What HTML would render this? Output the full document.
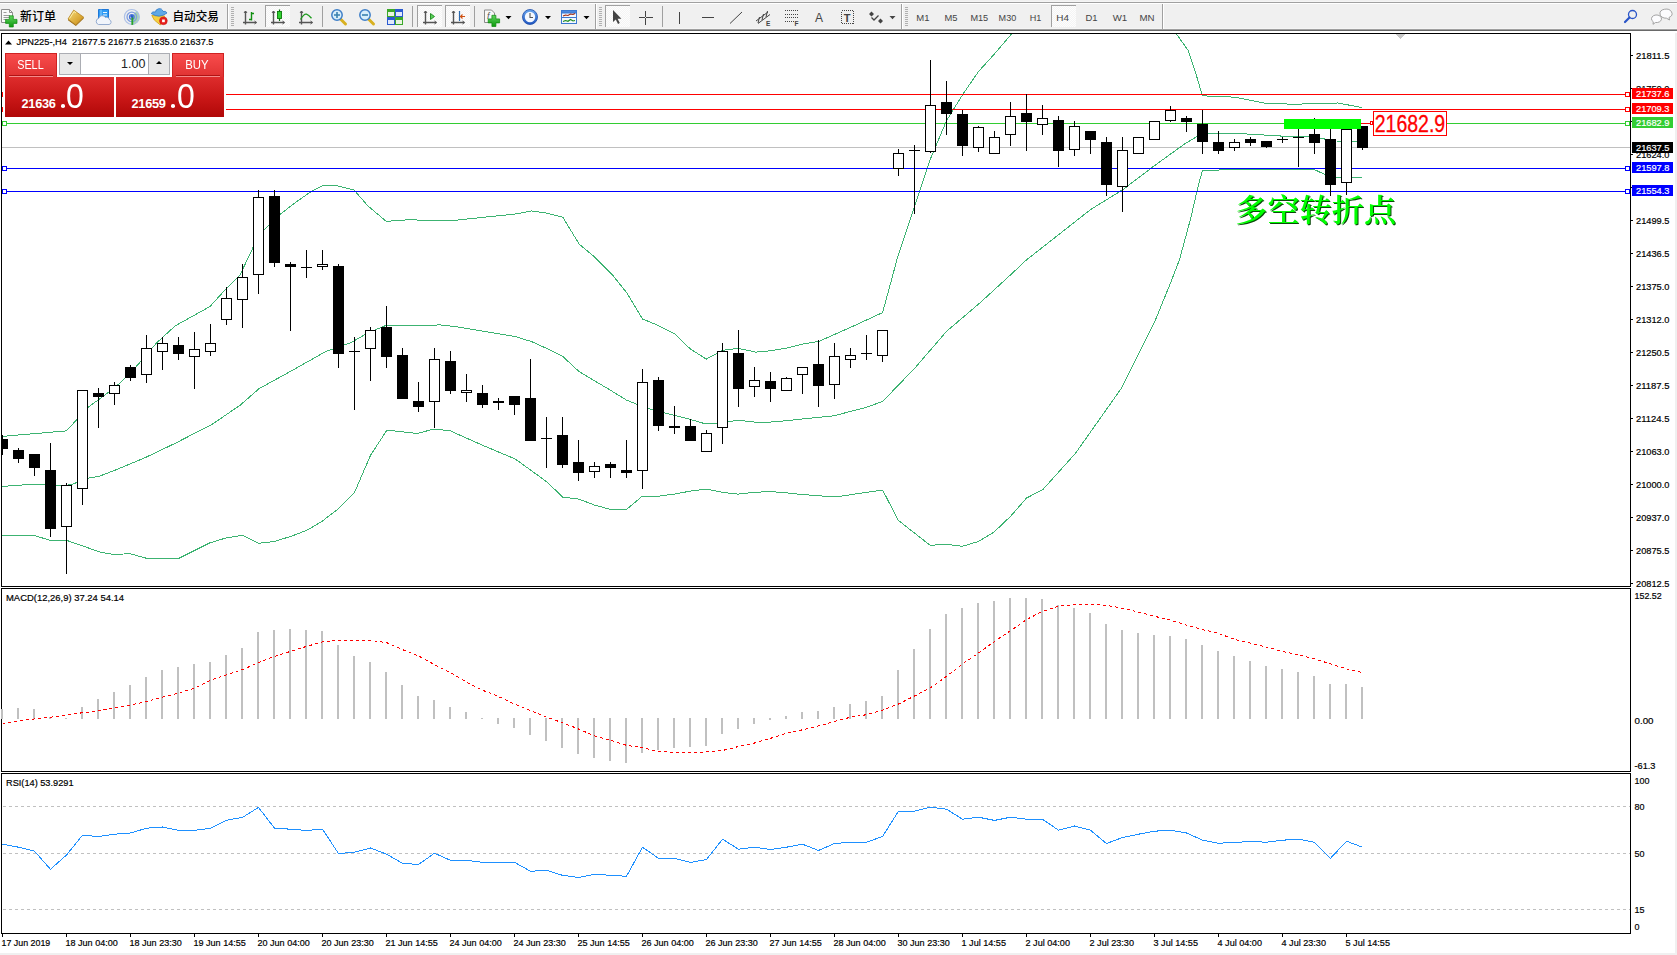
<!DOCTYPE html>
<html lang="zh"><head><meta charset="utf-8"><title>JPN225-,H4</title>
<style>
html,body{margin:0;padding:0;background:#f0f0f0;}
body{width:1677px;height:955px;overflow:hidden;position:relative;font-family:"Liberation Sans","Noto Sans CJK SC",sans-serif;}
#panel{position:absolute;left:0;top:0;width:230px;height:120px;color:#fff;}
#panel .bg{position:absolute;left:3px;top:52px;width:223px;height:66px;background:#fff}
#panel .pt{position:absolute;top:53px;height:24px;width:52px;background:linear-gradient(#f84c4c,#e03232);box-sizing:border-box;border:1px solid #cf2222;border-bottom:none}
#panel .sellt{left:5px}#panel .buyt{left:172px}
#panel .pb{position:absolute;top:77px;height:40px;background:linear-gradient(#de2c2c,#c81616 55%,#b00808);}
#panel .sell{left:5px;width:109px}#panel .buy{left:116px;width:108px}
#panel .lbl{position:absolute;top:58px;text-align:center;font-size:12.6px;line-height:15px;}
#panel .lbl span{display:inline-block}
#panel .ul{position:absolute;top:75px;width:44px;height:1px;background:#b01414;border-bottom:1px solid #f58a8a}
#panel .spin{position:absolute;left:59px;top:53px;width:111px;height:22px;background:#fff;border:1px solid #abadb3;box-sizing:border-box;}
#panel .sb{position:absolute;top:0;width:20px;height:20px;background:#e9e9e9;}
#panel .sb.l{left:0;border-right:1px solid #abadb3}#panel .sb.r{right:0;border-left:1px solid #abadb3}
#panel .sb i{position:absolute;left:7px;width:0;height:0;border-left:3px solid transparent;border-right:3px solid transparent}
#panel .sb i.dn{top:8px;border-top:3px solid #000}#panel .sb i.up{top:7px;border-bottom:3px solid #000}
#panel .sv{position:absolute;left:21px;right:23.6px;top:3px;text-align:right;color:#222;font-size:12.5px;line-height:15px}
#panel .pr{position:absolute;top:77px;width:109px;height:40px;}
#panel .pr .s{position:absolute;left:16.5px;top:19px;font-size:12.8px;font-weight:bold;line-height:16px;letter-spacing:-0.3px}
#panel .pr .d{position:absolute;left:55.5px;top:27px;width:4px;height:4px;border-radius:1.8px;background:#fff}
#panel .pr .b{position:absolute;left:60.5px;top:-1px;font-size:35.5px;line-height:40px;display:inline-block;transform:scaleX(0.9);transform-origin:0 0}
</style></head><body>
<svg id="chart" width="1677" height="955" viewBox="0 0 1677 955" style="position:absolute;left:0;top:0" shape-rendering="crispEdges" font-family="'Liberation Sans', sans-serif" font-size="9.9px" stroke-width="0.2">
<defs><clipPath id="cm"><rect x="2" y="34" width="1628" height="552"/></clipPath></defs>
<rect x="0" y="31" width="1675" height="922" fill="#fff"/>
<rect x="1" y="33" width="1630" height="1" fill="#000"/>
<rect x="1" y="586" width="1630" height="1" fill="#000"/>
<rect x="1" y="33" width="1" height="554" fill="#000"/>
<rect x="1630" y="33" width="1" height="554" fill="#000"/>
<rect x="1" y="588" width="1630" height="1" fill="#000"/>
<rect x="1" y="771" width="1630" height="1" fill="#000"/>
<rect x="1" y="588" width="1" height="184" fill="#000"/>
<rect x="1630" y="588" width="1" height="184" fill="#000"/>
<rect x="1" y="773" width="1630" height="1" fill="#000"/>
<rect x="1" y="933" width="1630" height="1" fill="#000"/>
<rect x="1" y="773" width="1" height="161" fill="#000"/>
<rect x="1630" y="773" width="1" height="161" fill="#000"/>
<g clip-path="url(#cm)">
<rect x="2" y="147" width="1628" height="1" fill="#c0c0c0"/>
<polyline points="2.0,436.4 66.4,430.9 77.6,418.8 87.7,407.6 110.0,391.3 120.0,383.0 135.0,368.0 156.5,343.0 175.0,326.0 210.0,306.5 225.0,290.0 240.0,275.0 253.0,247.6 264.0,230.0 280.5,214.0 295.5,202.5 310.5,192.0 323.0,185.5 338.0,186.0 354.0,190.0 368.0,206.0 386.3,221.4 410.0,219.6 427.6,220.6 452.6,220.6 485.2,217.1 516.5,213.9 531.5,210.9 546.5,213.1 562.8,217.1 579.0,243.9 595.4,257.7 611.7,274.0 626.7,292.7 642.5,319.0 658.0,325.3 674.3,333.6 690.5,349.1 706.3,359.1 722.6,350.3 738.1,348.3 755.7,352.1 770.7,350.8 785.7,348.3 802.0,344.2 818.8,341.4 850.0,327.6 882.6,312.6 898.0,255.8 914.0,208.3 930.2,159.5 946.5,120.7 962.8,94.4 978.3,71.8 994.1,54.3 1012.4,33.0 1026.0,18.0" fill="none" stroke="#3cb371" stroke-width="1" />
<polyline points="1170.0,15.0 1175.7,33.0 1188.2,50.5 1195.7,73.1 1202.4,95.8 1235.5,97.2 1266.0,103.5 1294.6,104.2 1323.3,103.5 1337.6,103.0 1362.0,107.5" fill="none" stroke="#3cb371" stroke-width="1" />
<polyline points="2.0,486.5 32.6,484.2 61.4,486.0 72.6,484.2 87.7,478.2 99.0,476.4 115.0,470.2 145.0,457.7 175.0,443.4 213.0,423.8 240.4,405.0 259.0,388.7 293.0,370.0 325.5,351.6 350.6,342.8 368.0,332.8 386.3,325.3 425.0,326.0 438.9,324.8 455.0,326.5 485.2,331.6 515.2,336.5 531.5,341.6 546.5,348.3 562.8,356.5 579.0,371.5 610.4,390.2 626.6,400.2 642.4,406.5 658.0,411.5 674.2,415.2 690.5,419.5 706.0,424.0 722.0,422.7 738.0,420.2 754.0,422.0 770.6,422.0 787.0,420.7 802.0,419.0 833.8,415.8 866.4,407.3 882.6,401.5 915.2,367.7 946.5,331.4 980.3,302.6 1010.4,275.0 1026.6,259.8 1090.5,209.6 1123.1,189.5 1154.4,165.7 1185.7,143.2 1196.1,137.0 1208.7,133.4 1233.7,133.1 1251.6,134.3 1282.1,136.1 1309.0,137.0 1323.3,138.8 1335.8,141.0 1362.0,141.5" fill="none" stroke="#3cb371" stroke-width="1" />
<polyline points="2.0,535.3 33.8,535.3 50.0,540.3 66.4,540.3 100.0,552.0 114.0,554.6 130.0,553.6 146.5,558.3 179.0,558.3 210.0,542.8 226.6,537.8 242.4,535.3 259.0,543.3 274.0,541.5 290.5,536.5 306.8,530.3 321.8,521.5 338.0,509.0 354.4,492.7 370.6,455.1 387.0,430.1 400.0,431.5 417.5,433.5 433.8,429.0 450.0,430.7 482.6,445.3 515.2,459.0 546.5,481.6 562.8,497.1 579.0,499.1 594.0,504.9 610.4,509.4 626.6,509.4 642.4,496.1 659.2,496.1 674.2,494.1 690.5,491.1 706.0,489.1 722.0,492.3 738.0,494.1 754.0,492.3 770.6,491.6 787.0,492.9 800.0,494.3 835.0,497.0 882.6,490.0 898.2,520.2 914.0,532.7 930.2,545.3 946.5,544.3 962.3,546.3 978.3,541.5 994.1,532.0 1010.4,516.5 1026.6,498.0 1042.9,489.5 1075.5,453.3 1121.8,387.7 1154.4,322.6 1170.7,282.5 1179.4,260.0 1190.7,218.3 1198.2,186.0 1202.4,170.5 1226.6,169.8 1282.1,169.5 1314.3,169.5 1325.1,174.6 1335.8,177.7 1362.0,177.3" fill="none" stroke="#3cb371" stroke-width="1" />
<rect x="2" y="94" width="1628" height="1" fill="#ff0000"/>
<rect x="2" y="109" width="1628" height="1" fill="#ff0000"/>
<rect x="2" y="123" width="1628" height="1" fill="#32cd32"/>
<rect x="2" y="168" width="1628" height="1" fill="#0000ff"/>
<rect x="2" y="191" width="1628" height="1" fill="#0000ff"/>
<rect x="2" y="435" width="1" height="20" fill="#000"/>
<rect x="-3" y="439" width="11" height="10" fill="#000"/>
<rect x="18" y="448" width="1" height="15" fill="#000"/>
<rect x="13" y="450" width="11" height="9" fill="#000"/>
<rect x="34" y="454" width="1" height="22" fill="#000"/>
<rect x="29" y="454" width="11" height="14" fill="#000"/>
<rect x="50" y="443" width="1" height="94" fill="#000"/>
<rect x="45" y="470" width="11" height="59" fill="#000"/>
<rect x="66" y="483" width="1" height="91" fill="#000"/>
<rect x="61" y="485" width="11" height="42" fill="#000"/>
<rect x="62" y="486" width="9" height="40" fill="#fff"/>
<rect x="82" y="390" width="1" height="115" fill="#000"/>
<rect x="77" y="390" width="11" height="99" fill="#000"/>
<rect x="78" y="391" width="9" height="97" fill="#fff"/>
<rect x="98" y="388" width="1" height="40" fill="#000"/>
<rect x="93" y="393" width="11" height="4" fill="#000"/>
<rect x="114" y="382" width="1" height="23" fill="#000"/>
<rect x="109" y="385" width="11" height="9" fill="#000"/>
<rect x="110" y="386" width="9" height="7" fill="#fff"/>
<rect x="130" y="365" width="1" height="16" fill="#000"/>
<rect x="125" y="367" width="11" height="11" fill="#000"/>
<rect x="146" y="335" width="1" height="48" fill="#000"/>
<rect x="141" y="348" width="11" height="27" fill="#000"/>
<rect x="142" y="349" width="9" height="25" fill="#fff"/>
<rect x="162" y="337" width="1" height="33" fill="#000"/>
<rect x="157" y="343" width="11" height="9" fill="#000"/>
<rect x="158" y="344" width="9" height="7" fill="#fff"/>
<rect x="178" y="337" width="1" height="23" fill="#000"/>
<rect x="173" y="345" width="11" height="9" fill="#000"/>
<rect x="194" y="332" width="1" height="57" fill="#000"/>
<rect x="189" y="349" width="11" height="8" fill="#000"/>
<rect x="190" y="350" width="9" height="6" fill="#fff"/>
<rect x="210" y="324" width="1" height="32" fill="#000"/>
<rect x="205" y="343" width="11" height="9" fill="#000"/>
<rect x="206" y="344" width="9" height="7" fill="#fff"/>
<rect x="226" y="287" width="1" height="38" fill="#000"/>
<rect x="221" y="298" width="11" height="22" fill="#000"/>
<rect x="222" y="299" width="9" height="20" fill="#fff"/>
<rect x="242" y="264" width="1" height="64" fill="#000"/>
<rect x="237" y="277" width="11" height="23" fill="#000"/>
<rect x="238" y="278" width="9" height="21" fill="#fff"/>
<rect x="258" y="190" width="1" height="104" fill="#000"/>
<rect x="253" y="197" width="11" height="78" fill="#000"/>
<rect x="254" y="198" width="9" height="76" fill="#fff"/>
<rect x="274" y="190" width="1" height="77" fill="#000"/>
<rect x="269" y="196" width="11" height="67" fill="#000"/>
<rect x="290" y="262" width="1" height="69" fill="#000"/>
<rect x="285" y="264" width="11" height="3" fill="#000"/>
<rect x="306" y="250" width="1" height="28" fill="#000"/>
<rect x="301" y="267" width="11" height="1" fill="#000"/>
<rect x="322" y="250" width="1" height="20" fill="#000"/>
<rect x="317" y="264" width="11" height="3" fill="#000"/>
<rect x="318" y="265" width="9" height="1" fill="#fff"/>
<rect x="338" y="264" width="1" height="104" fill="#000"/>
<rect x="333" y="266" width="11" height="88" fill="#000"/>
<rect x="354" y="337" width="1" height="73" fill="#000"/>
<rect x="349" y="351" width="11" height="1" fill="#000"/>
<rect x="370" y="327" width="1" height="54" fill="#000"/>
<rect x="365" y="330" width="11" height="19" fill="#000"/>
<rect x="366" y="331" width="9" height="17" fill="#fff"/>
<rect x="386" y="306" width="1" height="62" fill="#000"/>
<rect x="381" y="327" width="11" height="30" fill="#000"/>
<rect x="402" y="348" width="1" height="51" fill="#000"/>
<rect x="397" y="355" width="11" height="44" fill="#000"/>
<rect x="418" y="382" width="1" height="30" fill="#000"/>
<rect x="413" y="401" width="11" height="6" fill="#000"/>
<rect x="434" y="348" width="1" height="80" fill="#000"/>
<rect x="429" y="359" width="11" height="43" fill="#000"/>
<rect x="430" y="360" width="9" height="41" fill="#fff"/>
<rect x="450" y="351" width="1" height="43" fill="#000"/>
<rect x="445" y="361" width="11" height="30" fill="#000"/>
<rect x="466" y="374" width="1" height="28" fill="#000"/>
<rect x="461" y="390" width="11" height="3" fill="#000"/>
<rect x="462" y="391" width="9" height="1" fill="#fff"/>
<rect x="482" y="385" width="1" height="23" fill="#000"/>
<rect x="477" y="393" width="11" height="12" fill="#000"/>
<rect x="498" y="398" width="1" height="12" fill="#000"/>
<rect x="493" y="401" width="11" height="2" fill="#000"/>
<rect x="514" y="396" width="1" height="19" fill="#000"/>
<rect x="509" y="396" width="11" height="9" fill="#000"/>
<rect x="530" y="359" width="1" height="82" fill="#000"/>
<rect x="525" y="398" width="11" height="43" fill="#000"/>
<rect x="546" y="417" width="1" height="51" fill="#000"/>
<rect x="541" y="438" width="11" height="1" fill="#000"/>
<rect x="562" y="417" width="1" height="51" fill="#000"/>
<rect x="557" y="435" width="11" height="30" fill="#000"/>
<rect x="578" y="440" width="1" height="41" fill="#000"/>
<rect x="573" y="462" width="11" height="11" fill="#000"/>
<rect x="594" y="462" width="1" height="16" fill="#000"/>
<rect x="589" y="466" width="11" height="6" fill="#000"/>
<rect x="590" y="467" width="9" height="4" fill="#fff"/>
<rect x="610" y="462" width="1" height="16" fill="#000"/>
<rect x="605" y="464" width="11" height="4" fill="#000"/>
<rect x="626" y="440" width="1" height="38" fill="#000"/>
<rect x="621" y="470" width="11" height="3" fill="#000"/>
<rect x="642" y="369" width="1" height="120" fill="#000"/>
<rect x="637" y="382" width="11" height="89" fill="#000"/>
<rect x="638" y="383" width="9" height="87" fill="#fff"/>
<rect x="658" y="377" width="1" height="54" fill="#000"/>
<rect x="653" y="380" width="11" height="46" fill="#000"/>
<rect x="674" y="406" width="1" height="28" fill="#000"/>
<rect x="669" y="426" width="11" height="2" fill="#000"/>
<rect x="690" y="419" width="1" height="22" fill="#000"/>
<rect x="685" y="426" width="11" height="15" fill="#000"/>
<rect x="706" y="430" width="1" height="22" fill="#000"/>
<rect x="701" y="433" width="11" height="19" fill="#000"/>
<rect x="702" y="434" width="9" height="17" fill="#fff"/>
<rect x="722" y="343" width="1" height="101" fill="#000"/>
<rect x="717" y="351" width="11" height="77" fill="#000"/>
<rect x="718" y="352" width="9" height="75" fill="#fff"/>
<rect x="738" y="330" width="1" height="77" fill="#000"/>
<rect x="733" y="353" width="11" height="36" fill="#000"/>
<rect x="754" y="367" width="1" height="30" fill="#000"/>
<rect x="749" y="380" width="11" height="7" fill="#000"/>
<rect x="750" y="381" width="9" height="5" fill="#fff"/>
<rect x="770" y="372" width="1" height="30" fill="#000"/>
<rect x="765" y="381" width="11" height="8" fill="#000"/>
<rect x="786" y="377" width="1" height="14" fill="#000"/>
<rect x="781" y="378" width="11" height="13" fill="#000"/>
<rect x="782" y="379" width="9" height="11" fill="#fff"/>
<rect x="802" y="367" width="1" height="27" fill="#000"/>
<rect x="797" y="367" width="11" height="8" fill="#000"/>
<rect x="798" y="368" width="9" height="6" fill="#fff"/>
<rect x="818" y="340" width="1" height="67" fill="#000"/>
<rect x="813" y="364" width="11" height="22" fill="#000"/>
<rect x="834" y="343" width="1" height="56" fill="#000"/>
<rect x="829" y="356" width="11" height="29" fill="#000"/>
<rect x="830" y="357" width="9" height="27" fill="#fff"/>
<rect x="850" y="348" width="1" height="20" fill="#000"/>
<rect x="845" y="355" width="11" height="5" fill="#000"/>
<rect x="846" y="356" width="9" height="3" fill="#fff"/>
<rect x="866" y="335" width="1" height="25" fill="#000"/>
<rect x="861" y="353" width="11" height="1" fill="#000"/>
<rect x="882" y="330" width="1" height="32" fill="#000"/>
<rect x="877" y="330" width="11" height="26" fill="#000"/>
<rect x="878" y="331" width="9" height="24" fill="#fff"/>
<rect x="898" y="149" width="1" height="27" fill="#000"/>
<rect x="893" y="153" width="11" height="16" fill="#000"/>
<rect x="894" y="154" width="9" height="14" fill="#fff"/>
<rect x="914" y="145" width="1" height="69" fill="#000"/>
<rect x="909" y="150" width="11" height="1" fill="#000"/>
<rect x="930" y="60" width="1" height="93" fill="#000"/>
<rect x="925" y="105" width="11" height="47" fill="#000"/>
<rect x="926" y="106" width="9" height="45" fill="#fff"/>
<rect x="946" y="81" width="1" height="54" fill="#000"/>
<rect x="941" y="102" width="11" height="12" fill="#000"/>
<rect x="962" y="110" width="1" height="46" fill="#000"/>
<rect x="957" y="114" width="11" height="32" fill="#000"/>
<rect x="978" y="126" width="1" height="26" fill="#000"/>
<rect x="973" y="127" width="11" height="21" fill="#000"/>
<rect x="974" y="128" width="9" height="19" fill="#fff"/>
<rect x="994" y="131" width="1" height="23" fill="#000"/>
<rect x="989" y="137" width="11" height="17" fill="#000"/>
<rect x="990" y="138" width="9" height="15" fill="#fff"/>
<rect x="1010" y="102" width="1" height="44" fill="#000"/>
<rect x="1005" y="116" width="11" height="19" fill="#000"/>
<rect x="1006" y="117" width="9" height="17" fill="#fff"/>
<rect x="1026" y="94" width="1" height="57" fill="#000"/>
<rect x="1021" y="113" width="11" height="9" fill="#000"/>
<rect x="1042" y="105" width="1" height="30" fill="#000"/>
<rect x="1037" y="118" width="11" height="7" fill="#000"/>
<rect x="1038" y="119" width="9" height="5" fill="#fff"/>
<rect x="1058" y="116" width="1" height="51" fill="#000"/>
<rect x="1053" y="120" width="11" height="31" fill="#000"/>
<rect x="1074" y="121" width="1" height="35" fill="#000"/>
<rect x="1069" y="126" width="11" height="24" fill="#000"/>
<rect x="1070" y="127" width="9" height="22" fill="#fff"/>
<rect x="1090" y="131" width="1" height="23" fill="#000"/>
<rect x="1085" y="131" width="11" height="9" fill="#000"/>
<rect x="1106" y="137" width="1" height="59" fill="#000"/>
<rect x="1101" y="142" width="11" height="43" fill="#000"/>
<rect x="1122" y="137" width="1" height="75" fill="#000"/>
<rect x="1117" y="150" width="11" height="37" fill="#000"/>
<rect x="1118" y="151" width="9" height="35" fill="#fff"/>
<rect x="1138" y="137" width="1" height="17" fill="#000"/>
<rect x="1133" y="137" width="11" height="17" fill="#000"/>
<rect x="1134" y="138" width="9" height="15" fill="#fff"/>
<rect x="1154" y="121" width="1" height="19" fill="#000"/>
<rect x="1149" y="121" width="11" height="19" fill="#000"/>
<rect x="1150" y="122" width="9" height="17" fill="#fff"/>
<rect x="1170" y="106" width="1" height="16" fill="#000"/>
<rect x="1165" y="110" width="11" height="11" fill="#000"/>
<rect x="1166" y="111" width="9" height="9" fill="#fff"/>
<rect x="1186" y="116" width="1" height="16" fill="#000"/>
<rect x="1181" y="118" width="11" height="4" fill="#000"/>
<rect x="1202" y="110" width="1" height="44" fill="#000"/>
<rect x="1197" y="124" width="11" height="18" fill="#000"/>
<rect x="1218" y="131" width="1" height="23" fill="#000"/>
<rect x="1213" y="142" width="11" height="9" fill="#000"/>
<rect x="1234" y="139" width="1" height="12" fill="#000"/>
<rect x="1229" y="142" width="11" height="6" fill="#000"/>
<rect x="1230" y="143" width="9" height="4" fill="#fff"/>
<rect x="1250" y="137" width="1" height="9" fill="#000"/>
<rect x="1245" y="139" width="11" height="4" fill="#000"/>
<rect x="1266" y="141" width="1" height="7" fill="#000"/>
<rect x="1261" y="141" width="11" height="6" fill="#000"/>
<rect x="1282" y="137" width="1" height="6" fill="#000"/>
<rect x="1277" y="139" width="11" height="1" fill="#000"/>
<rect x="1298" y="121" width="1" height="46" fill="#000"/>
<rect x="1293" y="137" width="11" height="1" fill="#000"/>
<rect x="1314" y="118" width="1" height="36" fill="#000"/>
<rect x="1309" y="134" width="11" height="9" fill="#000"/>
<rect x="1330" y="121" width="1" height="75" fill="#000"/>
<rect x="1325" y="139" width="11" height="46" fill="#000"/>
<rect x="1346" y="121" width="1" height="74" fill="#000"/>
<rect x="1341" y="129" width="11" height="54" fill="#000"/>
<rect x="1342" y="130" width="9" height="52" fill="#fff"/>
<rect x="1362" y="126" width="1" height="24" fill="#000"/>
<rect x="1357" y="126" width="11" height="22" fill="#000"/>
<path d="M1396 34 L1405 34 L1400.5 38.8 Z" fill="#c8c8c8"/>
<rect x="1284" y="119" width="77" height="10" fill="#00ff00"/>
<rect x="1361" y="123" width="10" height="1" fill="#ff0000"/>
<rect x="1370.5" y="121.5" width="2" height="3" fill="#fff" stroke="#ff0000" stroke-width="1"/>
<rect x="1373.5" y="111.5" width="73" height="24" fill="#fff" stroke="#ff0000" stroke-width="1"/>
<text x="1374.7" y="131.7" font-size="23px" fill="#ff0000" stroke="#ff0000" stroke-width="0.3" textLength="70.5" lengthAdjust="spacingAndGlyphs" shape-rendering="auto">21682.9</text>
<rect x="2.5" y="92.5" width="4" height="4" fill="#fff" stroke="#ff0000" stroke-width="1"/>
<rect x="1625.5" y="92.5" width="4" height="4" fill="#fff" stroke="#ff0000" stroke-width="1"/>
<rect x="2.5" y="107.5" width="4" height="4" fill="#fff" stroke="#ff0000" stroke-width="1"/>
<rect x="1625.5" y="107.5" width="4" height="4" fill="#fff" stroke="#ff0000" stroke-width="1"/>
<rect x="2.5" y="121.5" width="4" height="4" fill="#fff" stroke="#32cd32" stroke-width="1"/>
<rect x="1625.5" y="121.5" width="4" height="4" fill="#fff" stroke="#32cd32" stroke-width="1"/>
<rect x="2.5" y="166.5" width="4" height="4" fill="#fff" stroke="#0000ff" stroke-width="1"/>
<rect x="1625.5" y="166.5" width="4" height="4" fill="#fff" stroke="#0000ff" stroke-width="1"/>
<rect x="2.5" y="189.5" width="4" height="4" fill="#fff" stroke="#0000ff" stroke-width="1"/>
<rect x="1625.5" y="189.5" width="4" height="4" fill="#fff" stroke="#0000ff" stroke-width="1"/>
</g>
<g font-family="'Liberation Serif','Noto Serif CJK SC',serif" font-weight="600" font-size="31px" shape-rendering="auto">
<text x="1235.2" y="220.8" fill="#00ff00" style="filter:drop-shadow(1px 1px 0 #0a4a0a)" textLength="161" lengthAdjust="spacingAndGlyphs">多空转折点</text>
</g>
<path d="M5 44.5 L8.5 40.5 L12 44.5 Z" fill="#000" shape-rendering="auto"/>
<text x="16.5" y="45" stroke="#000" xml:space="preserve" textLength="197" lengthAdjust="spacingAndGlyphs">JPN225-,H4  21677.5 21677.5 21635.0 21637.5</text>
<text x="6" y="601" stroke="#000" textLength="118" lengthAdjust="spacingAndGlyphs">MACD(12,26,9) 37.24 54.14</text>
<text x="6" y="786" stroke="#000" textLength="67.5" lengthAdjust="spacingAndGlyphs">RSI(14) 53.9291</text>
<rect x="1631" y="55" width="2" height="1" fill="#000"/>
<text x="1636" y="59.0" stroke="#000" textLength="33.5" lengthAdjust="spacingAndGlyphs">21811.5</text>
<rect x="1631" y="88" width="2" height="1" fill="#000"/>
<text x="1636" y="92.0" stroke="#000" textLength="33.5" lengthAdjust="spacingAndGlyphs">21750.0</text>
<rect x="1631" y="121" width="2" height="1" fill="#000"/>
<text x="1636" y="125.0" stroke="#000" textLength="33.5" lengthAdjust="spacingAndGlyphs">21687.0</text>
<rect x="1631" y="154" width="2" height="1" fill="#000"/>
<text x="1636" y="158.0" stroke="#000" textLength="33.5" lengthAdjust="spacingAndGlyphs">21624.0</text>
<rect x="1631" y="187" width="2" height="1" fill="#000"/>
<text x="1636" y="191.0" stroke="#000" textLength="33.5" lengthAdjust="spacingAndGlyphs">21562.5</text>
<rect x="1631" y="220" width="2" height="1" fill="#000"/>
<text x="1636" y="224.0" stroke="#000" textLength="33.5" lengthAdjust="spacingAndGlyphs">21499.5</text>
<rect x="1631" y="253" width="2" height="1" fill="#000"/>
<text x="1636" y="257.0" stroke="#000" textLength="33.5" lengthAdjust="spacingAndGlyphs">21436.5</text>
<rect x="1631" y="286" width="2" height="1" fill="#000"/>
<text x="1636" y="290.0" stroke="#000" textLength="33.5" lengthAdjust="spacingAndGlyphs">21375.0</text>
<rect x="1631" y="319" width="2" height="1" fill="#000"/>
<text x="1636" y="323.0" stroke="#000" textLength="33.5" lengthAdjust="spacingAndGlyphs">21312.0</text>
<rect x="1631" y="352" width="2" height="1" fill="#000"/>
<text x="1636" y="356.0" stroke="#000" textLength="33.5" lengthAdjust="spacingAndGlyphs">21250.5</text>
<rect x="1631" y="385" width="2" height="1" fill="#000"/>
<text x="1636" y="389.0" stroke="#000" textLength="33.5" lengthAdjust="spacingAndGlyphs">21187.5</text>
<rect x="1631" y="418" width="2" height="1" fill="#000"/>
<text x="1636" y="422.0" stroke="#000" textLength="33.5" lengthAdjust="spacingAndGlyphs">21124.5</text>
<rect x="1631" y="451" width="2" height="1" fill="#000"/>
<text x="1636" y="455.0" stroke="#000" textLength="33.5" lengthAdjust="spacingAndGlyphs">21063.0</text>
<rect x="1631" y="484" width="2" height="1" fill="#000"/>
<text x="1636" y="488.0" stroke="#000" textLength="33.5" lengthAdjust="spacingAndGlyphs">21000.0</text>
<rect x="1631" y="517" width="2" height="1" fill="#000"/>
<text x="1636" y="521.0" stroke="#000" textLength="33.5" lengthAdjust="spacingAndGlyphs">20937.0</text>
<rect x="1631" y="550" width="2" height="1" fill="#000"/>
<text x="1636" y="554.0" stroke="#000" textLength="33.5" lengthAdjust="spacingAndGlyphs">20875.5</text>
<rect x="1631" y="583" width="2" height="1" fill="#000"/>
<text x="1636" y="587.0" stroke="#000" textLength="33.5" lengthAdjust="spacingAndGlyphs">20812.5</text>
<rect x="1632" y="88" width="41" height="11" fill="#ff0000"/>
<text x="1636" y="97" fill="#fff" stroke="#fff" textLength="33.5" lengthAdjust="spacingAndGlyphs">21737.6</text>
<rect x="1632" y="103" width="41" height="11" fill="#ff0000"/>
<text x="1636" y="112" fill="#fff" stroke="#fff" textLength="33.5" lengthAdjust="spacingAndGlyphs">21709.3</text>
<rect x="1632" y="117" width="41" height="11" fill="#32cd32"/>
<text x="1636" y="126" fill="#fff" stroke="#fff" textLength="33.5" lengthAdjust="spacingAndGlyphs">21682.9</text>
<rect x="1632" y="142" width="41" height="11" fill="#000"/>
<text x="1636" y="151" fill="#fff" stroke="#fff" textLength="33.5" lengthAdjust="spacingAndGlyphs">21637.5</text>
<rect x="1632" y="162" width="41" height="11" fill="#0000ff"/>
<text x="1636" y="171" fill="#fff" stroke="#fff" textLength="33.5" lengthAdjust="spacingAndGlyphs">21597.8</text>
<rect x="1632" y="185" width="41" height="11" fill="#0000ff"/>
<text x="1636" y="194" fill="#fff" stroke="#fff" textLength="33.5" lengthAdjust="spacingAndGlyphs">21554.3</text>
<rect x="1" y="709" width="2" height="10" fill="#c0c0c0"/>
<rect x="17" y="708" width="2" height="11" fill="#c0c0c0"/>
<rect x="33" y="709" width="2" height="10" fill="#c0c0c0"/>
<rect x="49" y="717" width="2" height="2" fill="#c0c0c0"/>
<rect x="65" y="718" width="2" height="1" fill="#c0c0c0"/>
<rect x="81" y="707" width="2" height="12" fill="#c0c0c0"/>
<rect x="97" y="699" width="2" height="20" fill="#c0c0c0"/>
<rect x="113" y="692" width="2" height="27" fill="#c0c0c0"/>
<rect x="129" y="685" width="2" height="34" fill="#c0c0c0"/>
<rect x="145" y="677" width="2" height="42" fill="#c0c0c0"/>
<rect x="161" y="670" width="2" height="49" fill="#c0c0c0"/>
<rect x="177" y="667" width="2" height="52" fill="#c0c0c0"/>
<rect x="193" y="664" width="2" height="55" fill="#c0c0c0"/>
<rect x="209" y="662" width="2" height="57" fill="#c0c0c0"/>
<rect x="225" y="655" width="2" height="64" fill="#c0c0c0"/>
<rect x="241" y="648" width="2" height="71" fill="#c0c0c0"/>
<rect x="257" y="632" width="2" height="87" fill="#c0c0c0"/>
<rect x="273" y="630" width="2" height="89" fill="#c0c0c0"/>
<rect x="289" y="629" width="2" height="90" fill="#c0c0c0"/>
<rect x="305" y="630" width="2" height="89" fill="#c0c0c0"/>
<rect x="321" y="631" width="2" height="88" fill="#c0c0c0"/>
<rect x="337" y="645" width="2" height="74" fill="#c0c0c0"/>
<rect x="353" y="656" width="2" height="63" fill="#c0c0c0"/>
<rect x="369" y="662" width="2" height="57" fill="#c0c0c0"/>
<rect x="385" y="672" width="2" height="47" fill="#c0c0c0"/>
<rect x="401" y="685" width="2" height="34" fill="#c0c0c0"/>
<rect x="417" y="696" width="2" height="23" fill="#c0c0c0"/>
<rect x="433" y="700" width="2" height="19" fill="#c0c0c0"/>
<rect x="449" y="707" width="2" height="12" fill="#c0c0c0"/>
<rect x="465" y="712" width="2" height="7" fill="#c0c0c0"/>
<rect x="481" y="718" width="2" height="1" fill="#c0c0c0"/>
<rect x="497" y="718" width="2" height="6" fill="#c0c0c0"/>
<rect x="513" y="718" width="2" height="10" fill="#c0c0c0"/>
<rect x="529" y="718" width="2" height="17" fill="#c0c0c0"/>
<rect x="545" y="718" width="2" height="23" fill="#c0c0c0"/>
<rect x="561" y="718" width="2" height="30" fill="#c0c0c0"/>
<rect x="577" y="718" width="2" height="36" fill="#c0c0c0"/>
<rect x="593" y="718" width="2" height="40" fill="#c0c0c0"/>
<rect x="609" y="718" width="2" height="43" fill="#c0c0c0"/>
<rect x="625" y="718" width="2" height="45" fill="#c0c0c0"/>
<rect x="641" y="718" width="2" height="35" fill="#c0c0c0"/>
<rect x="657" y="718" width="2" height="32" fill="#c0c0c0"/>
<rect x="673" y="718" width="2" height="30" fill="#c0c0c0"/>
<rect x="689" y="718" width="2" height="29" fill="#c0c0c0"/>
<rect x="705" y="718" width="2" height="28" fill="#c0c0c0"/>
<rect x="721" y="718" width="2" height="16" fill="#c0c0c0"/>
<rect x="737" y="718" width="2" height="11" fill="#c0c0c0"/>
<rect x="753" y="718" width="2" height="6" fill="#c0c0c0"/>
<rect x="769" y="718" width="2" height="2" fill="#c0c0c0"/>
<rect x="785" y="716" width="2" height="3" fill="#c0c0c0"/>
<rect x="801" y="712" width="2" height="7" fill="#c0c0c0"/>
<rect x="817" y="711" width="2" height="8" fill="#c0c0c0"/>
<rect x="833" y="707" width="2" height="12" fill="#c0c0c0"/>
<rect x="849" y="704" width="2" height="15" fill="#c0c0c0"/>
<rect x="865" y="701" width="2" height="18" fill="#c0c0c0"/>
<rect x="881" y="696" width="2" height="23" fill="#c0c0c0"/>
<rect x="897" y="670" width="2" height="49" fill="#c0c0c0"/>
<rect x="913" y="649" width="2" height="70" fill="#c0c0c0"/>
<rect x="929" y="629" width="2" height="90" fill="#c0c0c0"/>
<rect x="945" y="614" width="2" height="105" fill="#c0c0c0"/>
<rect x="961" y="608" width="2" height="111" fill="#c0c0c0"/>
<rect x="977" y="603" width="2" height="116" fill="#c0c0c0"/>
<rect x="993" y="601" width="2" height="118" fill="#c0c0c0"/>
<rect x="1009" y="598" width="2" height="121" fill="#c0c0c0"/>
<rect x="1025" y="598" width="2" height="121" fill="#c0c0c0"/>
<rect x="1041" y="599" width="2" height="120" fill="#c0c0c0"/>
<rect x="1057" y="605" width="2" height="114" fill="#c0c0c0"/>
<rect x="1073" y="608" width="2" height="111" fill="#c0c0c0"/>
<rect x="1089" y="613" width="2" height="106" fill="#c0c0c0"/>
<rect x="1105" y="624" width="2" height="95" fill="#c0c0c0"/>
<rect x="1121" y="630" width="2" height="89" fill="#c0c0c0"/>
<rect x="1137" y="633" width="2" height="86" fill="#c0c0c0"/>
<rect x="1153" y="635" width="2" height="84" fill="#c0c0c0"/>
<rect x="1169" y="636" width="2" height="83" fill="#c0c0c0"/>
<rect x="1185" y="639" width="2" height="80" fill="#c0c0c0"/>
<rect x="1201" y="645" width="2" height="74" fill="#c0c0c0"/>
<rect x="1217" y="651" width="2" height="68" fill="#c0c0c0"/>
<rect x="1233" y="656" width="2" height="63" fill="#c0c0c0"/>
<rect x="1249" y="661" width="2" height="58" fill="#c0c0c0"/>
<rect x="1265" y="666" width="2" height="53" fill="#c0c0c0"/>
<rect x="1281" y="669" width="2" height="50" fill="#c0c0c0"/>
<rect x="1297" y="672" width="2" height="47" fill="#c0c0c0"/>
<rect x="1313" y="676" width="2" height="43" fill="#c0c0c0"/>
<rect x="1329" y="684" width="2" height="35" fill="#c0c0c0"/>
<rect x="1345" y="684" width="2" height="35" fill="#c0c0c0"/>
<rect x="1361" y="687" width="2" height="32" fill="#c0c0c0"/>
<polyline points="2.5,723.3 18.5,721.0 34.5,719.0 50.5,717.2 66.5,715.2 82.5,712.7 98.5,711.0 114.5,707.7 130.5,705.0 146.5,701.5 162.5,697.2 178.5,693.2 194.5,688.2 210.5,680.2 226.5,674.7 242.5,669.7 258.5,662.6 274.5,656.4 290.5,651.4 306.5,646.4 322.5,641.9 338.5,640.4 354.5,640.4 370.5,640.4 386.5,642.6 402.5,649.6 418.5,655.9 434.5,664.6 450.5,672.7 466.5,682.2 482.5,690.2 498.5,696.5 514.5,704.0 530.5,710.7 546.5,717.2 562.5,722.7 578.5,729.0 594.5,735.8 610.5,740.3 626.5,745.3 642.5,747.8 658.5,751.5 674.5,752.3 690.5,753.0 706.5,752.0 722.5,750.5 738.5,746.5 754.5,743.0 770.5,738.3 786.5,733.3 802.5,729.8 818.5,726.0 834.5,721.5 850.5,717.2 866.5,714.7 882.5,710.2 898.5,704.0 914.5,696.0 930.5,687.7 946.5,676.4 962.5,663.9 978.5,653.1 994.5,641.4 1010.5,630.8 1026.5,619.6 1042.5,611.3 1058.5,606.3 1074.5,604.5 1090.5,604.3 1106.5,605.3 1122.5,608.3 1138.5,612.1 1154.5,616.3 1170.5,620.1 1186.5,625.1 1202.5,629.6 1218.5,633.3 1234.5,639.4 1250.5,643.1 1266.5,647.1 1282.5,651.4 1298.5,654.9 1314.5,658.9 1330.5,663.9 1346.5,668.9 1362.5,672.7" fill="none" stroke="#ff0000" stroke-width="1" stroke-dasharray="3 3"/>
<text x="1634.5" y="598.9" stroke="#000" textLength="27.2" lengthAdjust="spacingAndGlyphs">152.52</text>
<text x="1634.5" y="723.7" stroke="#000" textLength="19" lengthAdjust="spacingAndGlyphs">0.00</text>
<text x="1634.5" y="768.5" stroke="#000" textLength="21" lengthAdjust="spacingAndGlyphs">-61.3</text>
<line x1="3" x2="1630" y1="806.5" y2="806.5" stroke="#c0c0c0" stroke-width="1" stroke-dasharray="3 3"/>
<line x1="3" x2="1630" y1="853.5" y2="853.5" stroke="#c0c0c0" stroke-width="1" stroke-dasharray="3 3"/>
<line x1="3" x2="1630" y1="909.5" y2="909.5" stroke="#c0c0c0" stroke-width="1" stroke-dasharray="3 3"/>
<polyline points="2.5,844.2 18.5,847.2 34.5,851.2 50.5,869.3 66.5,855.0 82.5,835.2 98.5,836.5 114.5,834.2 130.5,833.0 146.5,828.2 162.5,827.0 178.5,830.4 194.5,830.4 210.5,828.2 226.5,820.2 242.5,817.4 258.5,807.4 274.5,828.2 290.5,829.2 306.5,830.4 322.5,829.2 338.5,853.5 354.5,852.2 370.5,848.0 386.5,854.2 402.5,863.3 418.5,864.5 434.5,853.2 450.5,860.3 466.5,860.3 482.5,862.3 498.5,862.3 514.5,862.3 530.5,871.3 546.5,870.3 562.5,875.3 578.5,877.5 594.5,874.3 610.5,875.3 626.5,876.3 642.5,847.2 658.5,858.3 674.5,858.3 690.5,862.5 706.5,859.5 722.5,839.2 738.5,849.2 754.5,847.2 770.5,849.5 786.5,847.2 802.5,844.2 818.5,850.5 834.5,843.5 850.5,842.2 866.5,842.2 882.5,836.5 898.5,811.2 914.5,811.2 930.5,807.2 946.5,809.2 962.5,819.2 978.5,817.2 994.5,820.4 1010.5,817.2 1026.5,819.2 1042.5,819.2 1058.5,830.2 1074.5,826.0 1090.5,830.2 1106.5,843.5 1122.5,837.5 1138.5,834.2 1154.5,831.2 1170.5,830.2 1186.5,833.0 1202.5,840.2 1218.5,843.2 1234.5,842.5 1250.5,841.5 1266.5,842.2 1282.5,840.2 1298.5,839.2 1314.5,842.2 1330.5,858.3 1346.5,841.2 1362.5,847.2" fill="none" stroke="#1e90ff" stroke-width="1" />
<text x="1634.5" y="784.1" stroke="#000" textLength="15" lengthAdjust="spacingAndGlyphs">100</text>
<text x="1634.5" y="809.8" stroke="#000" textLength="10" lengthAdjust="spacingAndGlyphs">80</text>
<text x="1634.5" y="856.8" stroke="#000" textLength="10" lengthAdjust="spacingAndGlyphs">50</text>
<text x="1634.5" y="912.8" stroke="#000" textLength="10" lengthAdjust="spacingAndGlyphs">15</text>
<text x="1634.5" y="929.9" stroke="#000" textLength="5" lengthAdjust="spacingAndGlyphs">0</text>
<rect x="2" y="934" width="1" height="3" fill="#000"/>
<text x="1.5" y="945.8" stroke="#000" textLength="48.8" lengthAdjust="spacingAndGlyphs">17 Jun 2019</text>
<rect x="66" y="934" width="1" height="3" fill="#000"/>
<text x="65.5" y="945.8" stroke="#000" textLength="52.3" lengthAdjust="spacingAndGlyphs">18 Jun 04:00</text>
<rect x="130" y="934" width="1" height="3" fill="#000"/>
<text x="129.5" y="945.8" stroke="#000" textLength="52.3" lengthAdjust="spacingAndGlyphs">18 Jun 23:30</text>
<rect x="194" y="934" width="1" height="3" fill="#000"/>
<text x="193.5" y="945.8" stroke="#000" textLength="52.3" lengthAdjust="spacingAndGlyphs">19 Jun 14:55</text>
<rect x="258" y="934" width="1" height="3" fill="#000"/>
<text x="257.5" y="945.8" stroke="#000" textLength="52.3" lengthAdjust="spacingAndGlyphs">20 Jun 04:00</text>
<rect x="322" y="934" width="1" height="3" fill="#000"/>
<text x="321.5" y="945.8" stroke="#000" textLength="52.3" lengthAdjust="spacingAndGlyphs">20 Jun 23:30</text>
<rect x="386" y="934" width="1" height="3" fill="#000"/>
<text x="385.5" y="945.8" stroke="#000" textLength="52.3" lengthAdjust="spacingAndGlyphs">21 Jun 14:55</text>
<rect x="450" y="934" width="1" height="3" fill="#000"/>
<text x="449.5" y="945.8" stroke="#000" textLength="52.3" lengthAdjust="spacingAndGlyphs">24 Jun 04:00</text>
<rect x="514" y="934" width="1" height="3" fill="#000"/>
<text x="513.5" y="945.8" stroke="#000" textLength="52.3" lengthAdjust="spacingAndGlyphs">24 Jun 23:30</text>
<rect x="578" y="934" width="1" height="3" fill="#000"/>
<text x="577.5" y="945.8" stroke="#000" textLength="52.3" lengthAdjust="spacingAndGlyphs">25 Jun 14:55</text>
<rect x="642" y="934" width="1" height="3" fill="#000"/>
<text x="641.5" y="945.8" stroke="#000" textLength="52.3" lengthAdjust="spacingAndGlyphs">26 Jun 04:00</text>
<rect x="706" y="934" width="1" height="3" fill="#000"/>
<text x="705.5" y="945.8" stroke="#000" textLength="52.3" lengthAdjust="spacingAndGlyphs">26 Jun 23:30</text>
<rect x="770" y="934" width="1" height="3" fill="#000"/>
<text x="769.5" y="945.8" stroke="#000" textLength="52.3" lengthAdjust="spacingAndGlyphs">27 Jun 14:55</text>
<rect x="834" y="934" width="1" height="3" fill="#000"/>
<text x="833.5" y="945.8" stroke="#000" textLength="52.3" lengthAdjust="spacingAndGlyphs">28 Jun 04:00</text>
<rect x="898" y="934" width="1" height="3" fill="#000"/>
<text x="897.5" y="945.8" stroke="#000" textLength="52.3" lengthAdjust="spacingAndGlyphs">30 Jun 23:30</text>
<rect x="962" y="934" width="1" height="3" fill="#000"/>
<text x="961.5" y="945.8" stroke="#000" textLength="44.5" lengthAdjust="spacingAndGlyphs">1 Jul 14:55</text>
<rect x="1026" y="934" width="1" height="3" fill="#000"/>
<text x="1025.5" y="945.8" stroke="#000" textLength="44.5" lengthAdjust="spacingAndGlyphs">2 Jul 04:00</text>
<rect x="1090" y="934" width="1" height="3" fill="#000"/>
<text x="1089.5" y="945.8" stroke="#000" textLength="44.5" lengthAdjust="spacingAndGlyphs">2 Jul 23:30</text>
<rect x="1154" y="934" width="1" height="3" fill="#000"/>
<text x="1153.5" y="945.8" stroke="#000" textLength="44.5" lengthAdjust="spacingAndGlyphs">3 Jul 14:55</text>
<rect x="1218" y="934" width="1" height="3" fill="#000"/>
<text x="1217.5" y="945.8" stroke="#000" textLength="44.5" lengthAdjust="spacingAndGlyphs">4 Jul 04:00</text>
<rect x="1282" y="934" width="1" height="3" fill="#000"/>
<text x="1281.5" y="945.8" stroke="#000" textLength="44.5" lengthAdjust="spacingAndGlyphs">4 Jul 23:30</text>
<rect x="1346" y="934" width="1" height="3" fill="#000"/>
<text x="1345.5" y="945.8" stroke="#000" textLength="44.5" lengthAdjust="spacingAndGlyphs">5 Jul 14:55</text>
</svg><svg id="toolbar" width="1677" height="33" viewBox="0 0 1677 33" style="position:absolute;left:0;top:0" font-family="'Liberation Sans','Noto Sans CJK SC',sans-serif">
<defs>
<linearGradient id="gy" x1="0" y1="0" x2="1" y2="1"><stop offset="0" stop-color="#f7dc7a"/><stop offset="1" stop-color="#c98a10"/></linearGradient>
<linearGradient id="gb" x1="0" y1="0" x2="0" y2="1"><stop offset="0" stop-color="#6aa8f0"/><stop offset="1" stop-color="#1f55c0"/></linearGradient>
<linearGradient id="gg" x1="0" y1="0" x2="0" y2="1"><stop offset="0" stop-color="#5fd35f"/><stop offset="1" stop-color="#0e9a0e"/></linearGradient>
<pattern id="press" width="2" height="2" patternUnits="userSpaceOnUse"><rect width="2" height="2" fill="#f4f4f4"/><rect width="1" height="1" fill="#fdfdfd"/><rect x="1" y="1" width="1" height="1" fill="#fdfdfd"/></pattern>
</defs>
<rect x="0" y="0" width="1677" height="33" fill="#f0f0f0"/>
<rect x="0" y="1" width="1677" height="1" fill="#f5f5f5" shape-rendering="crispEdges"/>
<rect x="0" y="2" width="1677" height="1" fill="#a0a0a0" shape-rendering="crispEdges"/>
<rect x="0" y="3" width="1677" height="1" fill="#ffffff" shape-rendering="crispEdges"/>
<rect x="0" y="28" width="1677" height="1" fill="#f5f5f5" shape-rendering="crispEdges"/>
<rect x="0" y="29" width="1677" height="1" fill="#a0a0a0" shape-rendering="crispEdges"/>
<rect x="0" y="30" width="1677" height="1" fill="#696969" shape-rendering="crispEdges"/>
<rect x="0" y="31" width="1677" height="2" fill="#ffffff" shape-rendering="crispEdges"/>
<!-- separators and grips -->
<g shape-rendering="crispEdges">
<g fill="#a0a0a0">
<rect x="227" y="4" width="1" height="25"/><rect x="322" y="6" width="1" height="21"/><rect x="412" y="6" width="1" height="21"/><rect x="474" y="6" width="1" height="21"/>
<rect x="595" y="4" width="1" height="25"/><rect x="662" y="6" width="1" height="21"/><rect x="901" y="4" width="1" height="25"/><rect x="1162" y="4" width="1" height="25"/>
</g>
<g fill="#ffffff">
<rect x="228" y="4" width="1" height="25"/><rect x="596" y="4" width="1" height="25"/><rect x="902" y="4" width="1" height="25"/><rect x="1163" y="4" width="1" height="25"/>
</g>
<g stroke="#b0b0b0" stroke-width="3" stroke-dasharray="1 1" fill="none">
<line x1="232.5" y1="7" x2="232.5" y2="27"/><line x1="600.5" y1="7" x2="600.5" y2="27"/><line x1="906.5" y1="7" x2="906.5" y2="27"/>
</g>
<!-- pressed buttons -->
<g>
<rect x="265" y="5" width="25" height="22" fill="url(#press)"/><rect x="265" y="5" width="25" height="1" fill="#a0a0a0"/><rect x="265" y="5" width="1" height="22" fill="#a0a0a0"/>
<rect x="417" y="5" width="25" height="22" fill="url(#press)"/><rect x="417" y="5" width="25" height="1" fill="#a0a0a0"/><rect x="417" y="5" width="1" height="22" fill="#a0a0a0"/>
<rect x="445" y="5" width="25" height="22" fill="url(#press)"/><rect x="445" y="5" width="25" height="1" fill="#a0a0a0"/><rect x="445" y="5" width="1" height="22" fill="#a0a0a0"/>
<rect x="605" y="5" width="25" height="22" fill="url(#press)"/><rect x="605" y="5" width="25" height="1" fill="#a0a0a0"/><rect x="605" y="5" width="1" height="22" fill="#a0a0a0"/>
<rect x="1051" y="5" width="25" height="22" fill="url(#press)"/><rect x="1051" y="5" width="25" height="1" fill="#a0a0a0"/><rect x="1051" y="5" width="1" height="22" fill="#a0a0a0"/>
</g>
</g>
<!-- icon: new order -->
<g>
<path d="M1.5 9.5 h8 l3 3 v10 h-11 z" fill="#fafafa" stroke="#8e8e8e"/>
<path d="M9.5 9.5 v3 h3" fill="none" stroke="#8e8e8e"/>
<path d="M3.5 12.500h3M3.5 15.500h6.500M3.5 17.500h6.500M3.5 19.500h3" stroke="#9c9c9c" stroke-width="1"/>
<path d="M9.3 15.8 h4 v3.6 h3.7 v4 h-3.7 v3.6 h-4 v-3.6 h-3.7 v-4 h3.7 z" fill="url(#gg)" stroke="#0b8a0b" stroke-width="0.7"/>
</g>
<text x="20" y="20.5" font-size="12px" font-weight="500" fill="#000" textLength="36" lengthAdjust="spacingAndGlyphs">新订单</text>
<!-- icon: book -->
<path d="M68 19 L75.8 24.8 L83.7 17.2 L83.7 18.4 L75.9 26 L68 20.2 Z" fill="#9a6a10"/>
<path d="M68 19 L73.7 10.1 L83.7 17.2 L75.8 24.8 Z" fill="url(#gy)" stroke="#b07a10" stroke-width="0.7"/>
<path d="M69.5 18.6 L74 11.6 L76 13" fill="none" stroke="#fdf0b0" stroke-width="0.9"/>
<!-- icon: doc cloud -->
<g>
<path d="M98.5 9.5 h10 v10 h-10 z" fill="#2f9bf5" stroke="#1f78d8"/>
<path d="M101 9.5 v9" stroke="#8fd0ff" stroke-width="1"/>
<path d="M103 12.500h4M103 15h4" stroke="#e8f6ff" stroke-width="1.2"/>
<path d="M98.5 24.5 a3.2 3.2 0 0 1 0.3 -6.2 a3.6 3.6 0 0 1 6.6 -0.8 a3 3 0 0 1 4.2 2.4 a2.4 2.4 0 0 1 -0.6 4.6 z" fill="#f1f5fb" stroke="#8aa4cc" stroke-width="0.9"/>
</g>
<!-- icon: signal -->
<g fill="none">
<path d="M131.8 16.9 v7.9 a7.9 7.9 0 0 0 7.9 -7.9 a7.9 7.9 0 0 0 -3 -6.2 z" fill="#9fd39f" opacity="0.850"/>
<circle cx="131.8" cy="16.9" r="7.4" stroke="#aabfe6" stroke-width="1.2"/>
<circle cx="131.8" cy="16.9" r="4.8" stroke="#7f9fe0" stroke-width="1.3"/>
<circle cx="131.8" cy="16.9" r="2.3" stroke="#4a74d8" stroke-width="1.3"/>
<path d="M132.3 16.9 v8" stroke="#28a428" stroke-width="1.8"/>
<circle cx="131.8" cy="16.4" r="1.4" fill="#2a5ad0"/>
</g>
<!-- icon: autotrading -->
<g>
<path d="M151.8 15.5 l2.5 4.5 l6 5 l4.5 -9 z" fill="#f5d040" stroke="#d0a010" stroke-width="0.8"/>
<path d="M151.2 13.5 q8 5.5 15.8 -0.5 q-1 -2.5 -4 -1.5 q-1 -3.5 -4.5 -2.7 q-3 0.7 -3 3.2 q-3.3 -0.8 -4.3 1.5 z" fill="#5fa8e6" stroke="#2f78c8" stroke-width="0.8"/>
<circle cx="163.4" cy="20.8" r="3.9" fill="#e8201c" stroke="#c01010" stroke-width="0.5"/>
<rect x="162.1" y="19.5" width="2.7" height="2.7" fill="#fff"/>
</g>
<text x="172.5" y="20.5" font-size="12px" font-weight="500" fill="#000" textLength="46.5" lengthAdjust="spacingAndGlyphs">自动交易</text>
<!-- chart type icons -->
<g stroke="#555" stroke-width="1.4" fill="none">
<path d="M245.5 11 v13.5 M243 22.5 h13.5"/><path d="M244 13 l1.5 -2 l1.5 2 M254.5 21 l2 1.5 l-2 1.5" stroke-width="1"/>
<path d="M273.5 11 v13.5 M271 22.5 h13.5"/><path d="M272 13 l1.5 -2 l1.5 2 M282.5 21 l2 1.5 l-2 1.5" stroke-width="1"/>
<path d="M301.5 11 v13.5 M299 22.5 h13.5"/><path d="M300 13 l1.5 -2 l1.5 2 M310.5 21 l2 1.5 l-2 1.5" stroke-width="1"/>
</g>
<path d="M251.5 12 v8.5 M251.5 13.5 h2.5 M249 19.5 h2.5" stroke="#0f8f0f" stroke-width="1.4" fill="none"/>
<path d="M279.5 9.5 v11.5" stroke="#0a6a0a" stroke-width="1.2"/><rect x="277.5" y="11.5" width="4" height="7" fill="#30d030" stroke="#0a7a0a" stroke-width="0.9"/>
<path d="M300.5 19.5 q3.5 -6 6 -5.3 q2 0.6 5 4" stroke="#1a9a1a" stroke-width="1.3" fill="none"/>
<!-- zoom in/out -->
<g>
<path d="M340.5 19 l5 5" stroke="#d8b020" stroke-width="3" stroke-linecap="round"/>
<circle cx="337" cy="15" r="5.2" fill="#d8eefb" stroke="#3f7fc8" stroke-width="1.5"/>
<path d="M334 15 h6 M337 12 v6" stroke="#3a80b0" stroke-width="1.6"/>
<path d="M368.5 19 l5 5" stroke="#d8b020" stroke-width="3" stroke-linecap="round"/>
<circle cx="365" cy="15" r="5.2" fill="#d8eefb" stroke="#3f7fc8" stroke-width="1.5"/>
<path d="M362 15 h6" stroke="#3a80b0" stroke-width="1.6"/>
</g>
<!-- tile windows -->
<g shape-rendering="crispEdges">
<rect x="387" y="9" width="8" height="8" fill="#3aa828"/><rect x="395" y="9" width="8" height="8" fill="#2a5ad0"/>
<rect x="387" y="17" width="8" height="8" fill="#2a5ad0"/><rect x="395" y="17" width="8" height="8" fill="#3aa828"/>
<rect x="388" y="12" width="6" height="4" fill="#e8f4e0"/><rect x="396" y="12" width="6" height="4" fill="#e0e8fb"/>
<rect x="388" y="20" width="6" height="4" fill="#e0e8fb"/><rect x="396" y="20" width="6" height="4" fill="#e8f4e0"/>
</g>
<!-- auto scroll / shift -->
<g stroke="#555" stroke-width="1.4" fill="none">
<path d="M425.5 11 v13.5 M423 22.5 h13.5"/><path d="M424 13 l1.5 -2 l1.5 2 M434.5 21 l2 1.5 l-2 1.5" stroke-width="1"/>
<path d="M453.5 11 v13.5 M451 22.5 h13.5"/><path d="M452 13 l1.5 -2 l1.5 2 M462.5 21 l2 1.5 l-2 1.5" stroke-width="1"/>
</g>
<path d="M430.5 13.5 l4 3 l-4 3 z" fill="#5ad05a" stroke="#1a8a1a" stroke-width="0.9"/>
<path d="M459.5 11 v10" stroke="#2a6ab0" stroke-width="1.2"/><path d="M465 16.5 h-4.5 m2 -2 l-2 2 l2 2" stroke="#d05010" stroke-width="1.1" fill="none"/>
<!-- indicators -->
<g>
<path d="M484.5 10 h7 l3 3 v9.5 h-10 z" fill="#f8f8f8" stroke="#8a8a8a"/>
<text x="487" y="19" font-size="9px" font-style="italic" fill="#555">f</text>
<path d="M9.3 15.8 h4 v3.6 h3.7 v4 h-3.7 v3.6 h-4 v-3.6 h-3.7 v-4 h3.7 z" fill="url(#gg)" stroke="#0b8a0b" stroke-width="0.7" transform="translate(482.6,-0.5)"/>
<path d="M505.5 16 h6 l-3 3.2 z" fill="#0"/>
</g>
<!-- clock -->
<g>
<circle cx="530" cy="17" r="7.5" fill="url(#gb)" stroke="#1a4aa8" stroke-width="0.8"/>
<circle cx="530" cy="17" r="5.2" fill="#f4f8ff"/>
<path d="M530 13 v4.5 h3" stroke="#555" stroke-width="1.1" fill="none"/>
<path d="M545 16 h6 l-3 3.2 z" fill="#0"/>
</g>
<!-- templates -->
<g>
<rect x="561.5" y="10.5" width="15" height="13" fill="#f4f8ff" stroke="#3a78d0"/>
<rect x="561.5" y="10.5" width="15" height="2.5" fill="#4a88e0" stroke="#3a78d0"/>
<path d="M562 17.5 h14" stroke="#3a78d0" stroke-width="1"/>
<path d="M563 16 l2.5 -1 l2.5 0.5 l2.5 -1.5 l2.5 0.5 l2 -1" stroke="#a02810" stroke-width="1.1" fill="none"/>
<path d="M563 21.5 l2.5 -1 l2.5 0.8 l2.5 -1.8 l2.5 1.5 l2 -0.5" stroke="#1a8a1a" stroke-width="1.1" fill="none"/>
<path d="M583.5 16 h6 l-3 3.2 z" fill="#0"/>
</g>
<!-- cursor -->
<path d="M613 10 v12 l2.8 -2.6 l2.2 4.6 l1.8 -0.9 l-2.2 -4.4 h3.8 z" fill="#444"/>
<path d="M645.5 10.5 v14 M638.5 17.5 h14" stroke="#444" stroke-width="1" shape-rendering="crispEdges"/>
<rect x="645" y="17" width="1" height="1" fill="#f0f0f0"/>
<!-- line tools -->
<g stroke="#444" stroke-width="1" fill="none">
<path d="M679.5 11.5 v12" shape-rendering="crispEdges"/>
<path d="M702 17.5 h12" shape-rendering="crispEdges"/>
<path d="M730 23.5 l12 -11.5"/>
<path d="M756 21 l12 -9 M758 23.5 l12 -9 M759.5 17 l-1.5 6 M763.5 14 l-1.5 6 M767.5 11 l-1.5 6"/>
<path d="M785 10.5 h13 M785 14 h13 M785 17.5 h13 M785 21.5 h9" stroke-dasharray="1 1" shape-rendering="crispEdges"/>
<rect x="841.5" y="10.5" width="12" height="13" stroke-dasharray="1 1" shape-rendering="crispEdges"/>
</g>
<text x="766" y="26" font-size="6.5px" font-weight="bold" fill="#444">E</text>
<text x="794.5" y="26" font-size="6.5px" font-weight="bold" fill="#444">F</text>
<text x="815" y="22" font-size="12px" fill="#444">A</text>
<text x="843.8" y="22" font-size="11px" font-weight="bold" fill="#444">T</text>
<g fill="#444">
<path d="M869 14 l2.5 -2.5 l2.5 2.5 l-2.5 2.5 z M878 21 l2.5 -2.5 l2.5 2.5 l-2.5 2.5 z"/>
<path d="M871.5 17.5 l2.5 2.5 l4.5 -4.5" stroke="#444" stroke-width="1.3" fill="none"/>
<path d="M889.5 16 h6 l-3 3.2 z" fill="#0"/>
</g>
<!-- timeframes -->
<g font-size="9.6px" fill="#444">
<text x="916.3" y="20.6" textLength="13.2" lengthAdjust="spacingAndGlyphs">M1</text>
<text x="944.5" y="20.6" textLength="13" lengthAdjust="spacingAndGlyphs">M5</text>
<text x="970.4" y="20.6" textLength="17.8" lengthAdjust="spacingAndGlyphs">M15</text>
<text x="998.6" y="20.6" textLength="17.6" lengthAdjust="spacingAndGlyphs">M30</text>
<text x="1029.7" y="20.6" textLength="11.6" lengthAdjust="spacingAndGlyphs">H1</text>
<text x="1056.3" y="20.6" textLength="12.7" lengthAdjust="spacingAndGlyphs">H4</text>
<text x="1085.4" y="20.6" textLength="12.1" lengthAdjust="spacingAndGlyphs">D1</text>
<text x="1112.7" y="20.6" textLength="14.5" lengthAdjust="spacingAndGlyphs">W1</text>
<text x="1139.5" y="20.6" textLength="15.1" lengthAdjust="spacingAndGlyphs">MN</text>
</g>
<!-- search / chat -->
<path d="M1629.5 17.5 l-4.5 4.5" stroke="#2a55c8" stroke-width="2.2" stroke-linecap="round"/>
<circle cx="1632.5" cy="14.5" r="4" fill="none" stroke="#2a55c8" stroke-width="1.3"/>
<g stroke="#9a9a9a" stroke-width="0.9" fill="#fcfcfe">
<path d="M1660 14 a6 4.5 0 1 1 9 3.5 l0.5 2.5 l-3 -1.8 a6 4.5 0 0 1 -6.5 -4.2 z"/>
<path d="M1651.5 18.5 a5 3.8 0 1 1 4 4 l-2.5 1.8 l0.3 -2.5 a5 3.8 0 0 1 -1.8 -3.3 z"/>
</g>
</svg>
<div id="panel">
<div class="bg"></div>
<div class="pb sell"></div><div class="pb buy"></div>
<div class="pt sellt"></div><div class="pt buyt"></div>
<div class="lbl" style="left:4.4px;width:52px"><span style="transform:scaleX(0.86)">SELL</span></div>
<div class="lbl" style="left:171.2px;width:52px"><span style="transform:scaleX(0.9)">BUY</span></div>
<div class="ul" style="left:9px"></div><div class="ul" style="left:176px"></div>
<div class="spin"><div class="sb l"><i class="dn"></i></div><div class="sv">1.00</div><div class="sb r"><i class="up"></i></div></div>
<div class="pr" style="left:5px"><span class="s">21636</span><span class="d"></span><span class="b">0</span></div>
<div class="pr" style="left:115px"><span class="s">21659</span><span class="d" style="left:56.3px"></span><span class="b" style="left:61.7px">0</span></div>
</div>
</body></html>
